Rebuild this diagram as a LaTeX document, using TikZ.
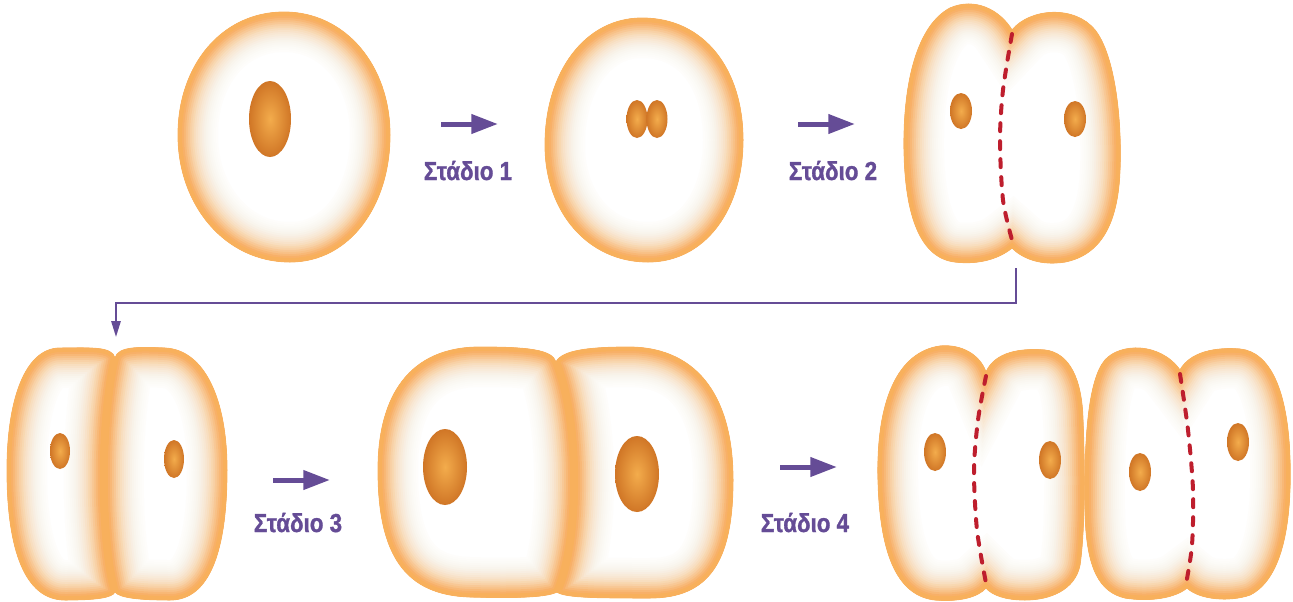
\documentclass[tikz,border=0pt]{standalone}
\usepackage{fontspec}
\usepackage{tikz}
\usetikzlibrary{arrows.meta}
\newfontfamily\stagefont[FakeStretch=0.86,BoldFeatures={FakeStretch=0.86,FakeBold=1.2}]{Liberation Sans}

\definecolor{cellrim}{RGB}{248,176,92}
\definecolor{nucin}{RGB}{243,172,76}
\definecolor{nucout}{RGB}{208,118,38}
\definecolor{stagepurple}{RGB}{101,76,150}
\definecolor{splitred}{RGB}{190,30,45}

\tikzset{
  rim/.style={draw=cellrim},
  stage/.style={text=stagepurple,font=\stagefont\bfseries\fontsize{19.5}{20}\selectfont,inner sep=0pt},
  stagearrow/.style={draw=stagepurple,line width=3.75pt,-{Triangle[length=20pt,width=14pt]}},
  link/.style={draw=stagepurple,line width=1.5pt,-{Triangle[length=12pt,width=7pt]}},
  split/.style={draw=splitred,line width=3pt,dash pattern=on 6pt off 7.5pt,line cap=round},
  nucleus/.style={inner color=nucin,outer color=nucout}
}

% white body, orange rim fading inwards (layered strokes clipped to the outline)
\newcommand\cellbody[1]{%
  \fill[white] #1;
  \begin{scope}
    \clip #1;
    \foreach \b/\o in {2/0.9,4/0.63,6/0.43,8/0.31,10/0.24,12/0.18,14/0.145,16/0.115,18/0.093,20/0.075,
                       22/0.06,24/0.048,26/0.038,28/0.03,30/0.024,32/0.019,34/0.015,36/0.011,38/0.009,40/0.02}
      \draw[rim,line width=1.5pt*\b,draw opacity=\o] #1;
  \end{scope}
  \draw[rim,line width=0.6pt] #1;}

\begin{document}
\begin{tikzpicture}[x=0.75pt,y=0.75pt,yscale=-1,xscale=1]
\useasboundingbox (0,0) rectangle (1293,601);

% top row
\cellbody{(284,12) .. controls (345,12) and (390,65) .. (390,135) .. controls (390,205) and (350,262) .. (290,262)
  .. controls (225,262) and (178,205) .. (178,135) .. controls (178,65) and (222,12) .. (284,12) -- cycle}
\shade[nucleus] (270,119) ellipse (21 and 38);

\cellbody{(642,18) .. controls (705,18) and (743,70) .. (743,140) .. controls (743,210) and (705,262) .. (648,262)
  .. controls (588,262) and (545,212) .. (545,145) .. controls (545,72) and (585,18) .. (642,18) -- cycle}
\shade[nucleus] (637,119) ellipse (10.5 and 19);
\shade[nucleus] (657,119) ellipse (10.5 and 19);

\cellbody{(1012,30) .. controls (1030,8) and (1075,5) .. (1095,30) .. controls (1115,55) and (1122,120) .. (1120,170)
  .. controls (1118,225) and (1100,255) .. (1065,262) .. controls (1040,266) and (1022,258) .. (1012,248)
  .. controls (1000,258) and (980,265) .. (955,262) .. controls (920,258) and (905,215) .. (904,150)
  .. controls (903,80) and (918,25) .. (950,8) .. controls (975,-3) and (1000,10) .. (1012,30) -- cycle}
\draw[split] plot[smooth] coordinates {(1012,34) (1003,90) (1000,140) (1003,200) (1012,240)};
\shade[nucleus] (961,111) ellipse (11 and 18);
\shade[nucleus] (1075,119) ellipse (11 and 18);

\coordinate (a1s) at (441,124); \coordinate (a1e) at (498,124);
\coordinate (a2s) at (798,124); \coordinate (a2e) at (855,124);
\draw[stagearrow] (a1s) -- (a1e);
\draw[stagearrow] (a2s) -- (a2e);
\node[stage,anchor=base] (st1) at (468,180) {Στάδιο 1};
\node[stage,anchor=base] (st2) at (833,180) {Στάδιο 2};

% link down to the second row
\coordinate (out2) at (1016,268);
\coordinate (turn) at (116,303);
\coordinate (in3) at (116,337);
\draw[link] (out2) |- (turn) -- (in3);

% bottom row
\cellbody{(115,358) .. controls (112,346) and (90,348) .. (60,348) .. controls (25,348) and (7,400) .. (7,470)
  .. controls (7,550) and (25,600) .. (65,600) .. controls (95,600) and (112,598) .. (115,592)
  .. controls (100,540) and (100,420) .. (115,358) -- cycle}
\cellbody{(115,358) .. controls (118,346) and (140,347) .. (165,348) .. controls (205,350) and (227,400) .. (227,470)
  .. controls (227,550) and (210,600) .. (170,600) .. controls (140,600) and (120,598) .. (115,592)
  .. controls (100,540) and (100,420) .. (115,358) -- cycle}
\shade[nucleus] (60,451) ellipse (10 and 18);
\shade[nucleus] (174,459) ellipse (10 and 19);

\cellbody{(556,362) .. controls (552,350) and (530,347) .. (480,347) .. controls (410,347) and (378,395) .. (378,470)
  .. controls (378,555) and (405,595) .. (470,597) .. controls (510,598) and (545,598) .. (557,592)
  .. controls (580,540) and (580,420) .. (556,362) -- cycle}
\cellbody{(556,362) .. controls (562,350) and (590,347) .. (630,347) .. controls (700,348) and (733,400) .. (733,480)
  .. controls (733,560) and (710,598) .. (650,598) .. controls (600,598) and (565,598) .. (557,592)
  .. controls (580,540) and (580,420) .. (556,362) -- cycle}
\shade[nucleus] (445,467) ellipse (22 and 38);
\shade[nucleus] (637,474) ellipse (22 and 38);

\cellbody{(986,372) .. controls (995,352) and (1020,348) .. (1045,350) .. controls (1070,353) and (1082,380) .. (1083,420)
  .. controls (1085,470) and (1085,530) .. (1080,565) .. controls (1075,590) and (1050,600) .. (1025,600)
  .. controls (1005,600) and (992,595) .. (986,588) .. controls (978,597) and (960,602) .. (935,600)
  .. controls (900,596) and (880,560) .. (878,480) .. controls (876,400) and (898,352) .. (940,346)
  .. controls (962,344) and (980,355) .. (986,372) -- cycle}
\cellbody{(1180,370) .. controls (1190,352) and (1215,347) .. (1240,349) .. controls (1270,352) and (1288,390) .. (1290,460)
  .. controls (1292,530) and (1280,580) .. (1250,595) .. controls (1230,602) and (1200,600) .. (1187,588)
  .. controls (1175,598) and (1150,602) .. (1125,598) .. controls (1100,592) and (1086,570) .. (1085,510)
  .. controls (1084,440) and (1088,380) .. (1105,360) .. controls (1120,343) and (1160,342) .. (1180,370) -- cycle}
\draw[split] plot[smooth] coordinates {(986,376) (978,420) (974,470) (977,530) (986,583)};
\draw[split] plot[smooth] coordinates {(1180,374) (1188,430) (1193,490) (1192,545) (1186,584)};
\shade[nucleus] (935,452) ellipse (11 and 19);
\shade[nucleus] (1050,460) ellipse (11 and 19);
\shade[nucleus] (1140,472) ellipse (11 and 19);
\shade[nucleus] (1238,442) ellipse (11 and 19);

\coordinate (a3s) at (273,480); \coordinate (a3e) at (330,480);
\coordinate (a4s) at (780,467); \coordinate (a4e) at (837,467);
\draw[stagearrow] (a3s) -- (a3e);
\draw[stagearrow] (a4s) -- (a4e);
\node[stage,anchor=base] (st3) at (298,532) {Στάδιο 3};
\node[stage,anchor=base] (st4) at (805,532) {Στάδιο 4};
\end{tikzpicture}
\end{document}
